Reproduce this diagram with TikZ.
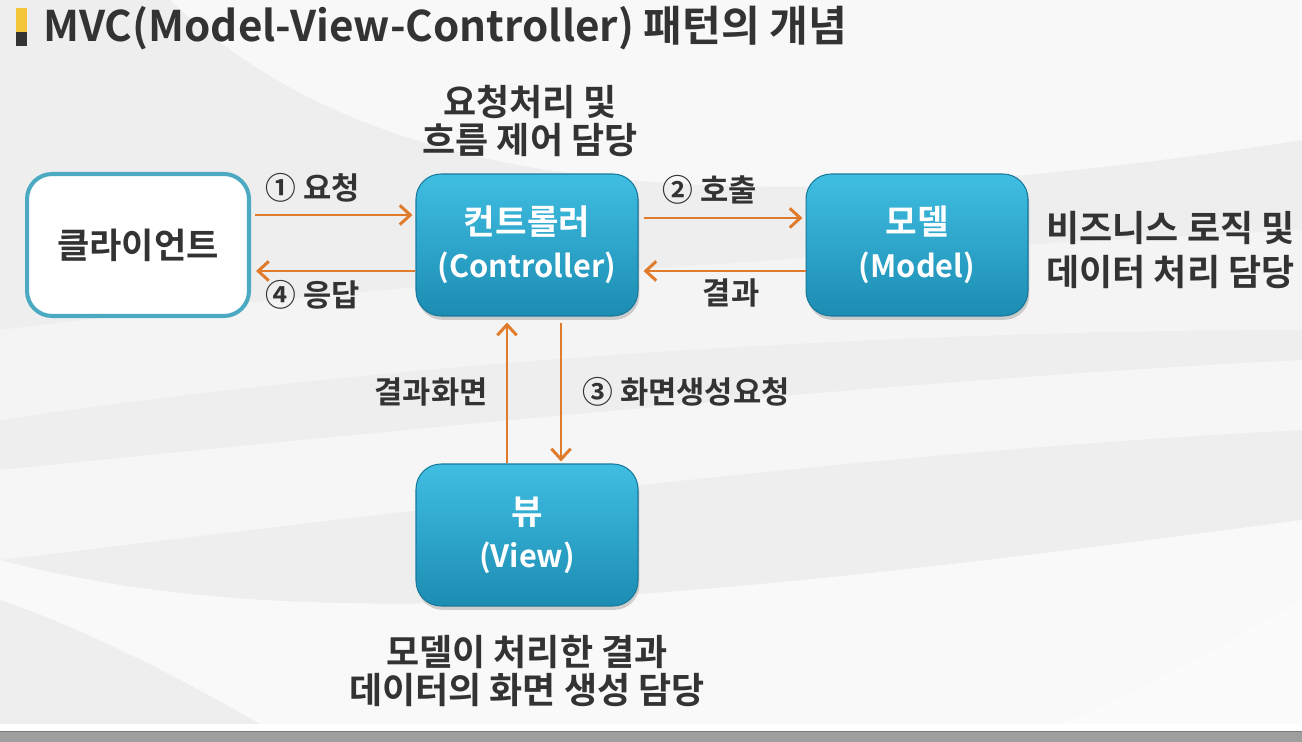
\documentclass[tikz,border=0pt]{standalone}
\usepackage{fontspec}
\setmainfont{Noto Sans CJK KR}[BoldFont={Noto Sans CJK KR Bold}]
\usetikzlibrary{arrows.meta,shadows,calc}
\definecolor{ink}{HTML}{333333}
\definecolor{flow}{HTML}{E07B2C}
\definecolor{boxtop}{HTML}{40BEE2}
\definecolor{boxbot}{HTML}{1C8CB2}
\definecolor{boxline}{HTML}{17799B}
\definecolor{clientline}{HTML}{4BAAC2}
\definecolor{bgbase}{HTML}{EEEEEE}
\definecolor{marker}{HTML}{F5C53A}
\newcommand{\hg}{\fontsize{19.5}{24.5}\selectfont}
\newcommand{\lt}{\fontsize{17.5}{24.5}\selectfont}
\begin{document}
\begin{tikzpicture}[x=0.02cm,y=-0.02cm,
  card/.style={rounded corners=0.5cm, minimum width=4.44cm, minimum height=2.84cm,
    align=center, inner sep=0pt},
  bluecard/.style={card, top color=boxtop, bottom color=boxbot, draw=boxline, line width=0.6pt,
    text=white, font=\bfseries\lt,
    drop shadow={opacity=0.35, shadow xshift=0.8pt, shadow yshift=-2.2pt}},
  whitecard/.style={card, fill=white, draw=clientline, line width=2.3pt,
    text=ink, font=\bfseries\fontsize{20}{24}\selectfont},
  arr/.style={draw=flow, line width=1.7pt, -{Straight Barb[length=6pt,width=11pt,line width=1.7pt]}},
  lbl/.style={text=ink, font=\bfseries\fontsize{17.5}{21}\selectfont, inner sep=0pt},
  note/.style={text=ink, font=\bfseries\fontsize{20.5}{21.5}\selectfont, inner sep=0pt, align=center}]

\useasboundingbox (0,0) rectangle (1302,742);

% soft grey background with pale sweeping bands
\fill[bgbase] (0,0) rectangle (1302,724);
\fill[white, opacity=0.6] (0,0) -- (170,0) .. controls (330,150) and (600,250) .. (1302,140)
  -- (1302,0) -- cycle;
\fill[white, opacity=0.4] (0,330) .. controls (400,280) and (900,250) .. (1302,230)
  -- (1302,330) .. controls (900,330) and (400,360) .. (0,420) -- cycle;
\fill[white, opacity=0.5] (0,470) .. controls (400,430) and (900,380) .. (1302,360)
  -- (1302,430) .. controls (900,450) and (500,500) .. (0,560) -- cycle;
\fill[white, opacity=0.65] (0,560) .. controls (300,640) and (700,600) .. (1302,520)
  -- (1302,724) -- (260,724) .. controls (150,660) and (60,620) .. (0,600) -- cycle;
\fill[white, opacity=0.4] (1060,724) .. controls (1150,690) and (1230,640) .. (1302,600)
  -- (1302,724) -- cycle;
% footer strip
\fill[white] (0,724) rectangle (1302,731);
\fill[black!38] (0,731) rectangle (1302,742);
\draw[black!52, line width=0.8pt] (0,731.5) -- (1302,731.5);

% title with its two-tone marker
\fill[marker] (16,8) rectangle (27,32);
\fill[ink] (16,32) rectangle (27,46);
\node[anchor=west, text=ink, font=\bfseries\fontsize{24}{28}\selectfont, inner sep=0pt]
  (title) at (43,28) {MVC(Model-View-Controller) 패턴의 개념};

% components
\node[whitecard] (client) at (138,245) {클라이언트};
\node[bluecard] (ctrl) at (527,245) {{\hg 컨트롤러}\\(Controller)};
\node[bluecard] (model) at (917,245) {{\hg 모델}\\(Model)};
\node[bluecard] (view) at (527,535) {{\hg 뷰}\\(View)};

% request / response flow
\draw[arr] ($(client.east)+(4,-30)$) -- ($(ctrl.west)+(-3,-30)$);
\draw[arr] ($(ctrl.west)+(0,26)$) -- ($(client.east)+(5,26)$);
\draw[arr] ($(ctrl.east)+(5,-27)$) -- ($(model.west)+(-3,-27)$);
\draw[arr] ($(model.west)+(0,26)$) -- ($(ctrl.east)+(5,26)$);
\draw[arr] ($(view.north)+(-20,0)$) -- ($(ctrl.south)+(-20,6)$);
\draw[arr] ($(ctrl.south)+(34,6)$) -- ($(view.north)+(34,-2)$);

% arrow labels
\node[lbl] (l1) at (313,188) {① 요청};
\node[lbl] (l4) at (313,295) {④ 응답};
\node[lbl] (l2) at (710,190) {② 호출};
\node[lbl] (lr) at (731,293) {결과};
\node[lbl, anchor=east] (lv) at (488,392) {결과화면};
\node[lbl, anchor=west] (l3) at (582,392) {③ 화면생성요청};

% role descriptions
\node[note, font=\bfseries\fontsize{20.5}{21.5}\selectfont] (nctrl) at (530,121) {요청처리 및\\흐름 제어 담당};
\node[note, align=left, anchor=west, font=\bfseries\fontsize{20.5}{25}\selectfont] (nmodel) at (1046,250) {비즈니스 로직 및\\데이터 처리 담당};
\node[note] (nview) at (527,671) {모델이 처리한 결과\\데이터의 화면 생성 담당};
\end{tikzpicture}
\end{document}
